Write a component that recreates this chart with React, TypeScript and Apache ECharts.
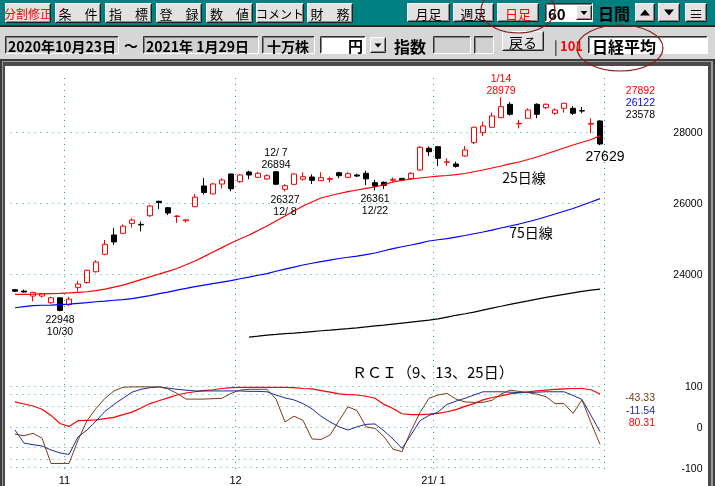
import React, { useEffect, useRef } from 'react';
import * as echarts from 'echarts';

const FF = '"Noto Sans CJK JP", "Noto Sans", sans-serif';
const NF = '"Liberation Sans", Arial, sans-serif';

const dates = [
  '2020/10/23', '2020/10/26', '2020/10/27', '2020/10/28', '2020/10/29', '2020/10/30',
  '2020/11/02', '2020/11/04', '2020/11/05', '2020/11/06', '2020/11/09', '2020/11/10', '2020/11/11', '2020/11/12', '2020/11/13',
  '2020/11/16', '2020/11/17', '2020/11/18', '2020/11/19', '2020/11/20', '2020/11/24', '2020/11/25', '2020/11/26', '2020/11/27', '2020/11/30',
  '2020/12/01', '2020/12/02', '2020/12/03', '2020/12/04', '2020/12/07', '2020/12/08', '2020/12/09', '2020/12/10', '2020/12/11',
  '2020/12/14', '2020/12/15', '2020/12/16', '2020/12/17', '2020/12/18', '2020/12/21', '2020/12/22', '2020/12/23', '2020/12/24',
  '2020/12/25', '2020/12/28', '2020/12/29', '2020/12/30',
  '2021/01/04', '2021/01/05', '2021/01/06', '2021/01/07', '2021/01/08', '2021/01/12', '2021/01/13', '2021/01/14', '2021/01/15',
  '2021/01/18', '2021/01/19', '2021/01/20', '2021/01/21', '2021/01/22', '2021/01/25', '2021/01/26', '2021/01/27', '2021/01/28', '2021/01/29',
];

const openP = [
  23560, 23520, 23380, 23380, 23190, 23330, 23140, 23625, 23760, 24065,
  24555, 25100, 25146, 25427, 25400, 25642, 26050, 25868, 25620, 25500,
  25896, 26479, 26254, 26535, 26817, 26600, 26873, 26724, 26676, 26880,
  26386, 26527, 26670, 26732, 26628, 26670, 26854, 26724, 26789, 26837,
  26572, 26583, 26640, 26695, 26685, 26930, 27541, 27586, 27150, 27099,
  27324, 27700, 27981, 28132, 28403, 28780, 28230, 28386, 28780, 28685,
  28527, 28667, 28667, 28600, 28220, 28310,
];
const closeP = [
  23516, 23494, 23485, 23450, 23331, 22977, 23295, 23718, 24105, 24338,
  24839, 24905, 25349, 25520, 25385, 25916, 26014, 25720, 25634, 25527,
  26165, 26296, 26537, 26648, 26400, 26789, 26789, 26837, 26769, 26530,
  26487, 26817, 26741, 26640, 26713, 26687, 26769, 26826, 26760, 26680,
  26475, 26499, 26668, 26656, 26837, 27569, 27445, 27259, 27158, 27030,
  27493, 28132, 28169, 28451, 28713, 28499, 28242, 28620, 28499, 28780,
  28620, 28808, 28527, 28590, 28240, 27663,
];
const lowP = [
  23500, 23480, 23230, 23340, 23170, 22948, 23100, 23500, 23730, 24040,
  24530, 24820, 25140, 25310, 25200, 25610, 25830, 25660, 25440, 25450,
  25880, 26240, 26250, 26410, 26330, 26570, 26670, 26720, 26650, 26500,
  26327, 26510, 26630, 26535, 26620, 26575, 26700, 26700, 26730, 26505,
  26361, 26400, 26585, 26640, 26660, 26900, 27325, 27040, 27050, 26995,
  27300, 27660, 27887, 28130, 28400, 28460, 28100, 28380, 28386, 28648,
  28480, 28544, 28480, 28530, 27962, 27629,
];
const highP = [
  23580, 23560, 23500, 23460, 23360, 23340, 23360, 23810, 24120, 24390,
  24960, 25300, 25400, 25570, 25480, 25950, 26060, 25890, 25660, 25540,
  26250, 26706, 26570, 26700, 26830, 26820, 26910, 26880, 26810, 26894,
  26530, 26830, 26860, 26810, 26865, 26740, 26880, 26865, 26826, 26910,
  26650, 26610, 26720, 26705, 26865, 27600, 27590, 27605, 27260, 27165,
  27605, 28150, 28290, 28546, 28979, 28839, 28340, 28667, 28808, 28808,
  28667, 28822, 28730, 28700, 28385, 28330,
];

const ma25 = [
  23428, 23430, 23432, 23440, 23448, 23456, 23470, 23485, 23501, 23535,
  23577, 23630, 23690, 23765, 23845, 23920, 24000, 24075, 24155, 24260,
  24366, 24490, 24620, 24745, 24873, 24985, 25099, 25225, 25352, 25495,
  25634, 25775, 25915, 26030, 26141, 26205, 26268, 26320, 26366, 26410,
  26451, 26520, 26592, 26635, 26676, 26705, 26732, 26755, 26775, 26800,
  26831, 26880, 26930, 26985, 27042, 27100, 27155, 27225, 27296, 27380,
  27465, 27550, 27634, 27710, 27789, 27892,
];
const ma75 = [
  23051, 23085, 23113, 23121, 23127, 23141, 23155, 23177, 23197, 23220,
  23239, 23262, 23282, 23310, 23352, 23394, 23451, 23493, 23549, 23597,
  23648, 23690, 23732, 23775, 23817, 23868, 23915, 23966, 24014, 24079,
  24141, 24197, 24254, 24304, 24352, 24394, 24437, 24473, 24507, 24549,
  24592, 24656, 24718, 24769, 24817, 24873, 24930, 24966, 25000, 25042,
  25085, 25135, 25183, 25239, 25296, 25352, 25408, 25473, 25535, 25614,
  25690, 25769, 25845, 25938, 26028, 26122,
];
const ma200 = [
  null, null, null, null, null, null, null, null, null, null,
  null, null, null, null, null, null, null, null, null, null,
  null, null, null, null, null, null, 22225, 22253, 22282, 22301,
  22324, 22338, 22358, 22380, 22403, 22422, 22445, 22465, 22487, 22513,
  22541, 22563, 22592, 22620, 22648, 22676, 22704, 22738, 22789, 22839,
  22882, 22930, 22986, 23042, 23093, 23146, 23197, 23245, 23296, 23344,
  23386, 23428, 23470, 23513, 23549, 23578,
];

const rci9 = [
  -18, -22, -16, -28, -90, -90, -90, -33, 15, 45,
  70, 88, 97, 98, 98, 98, 98, 93, 82, 68,
  68, 68, 69, 70, 82, 90, 92, 92, 92, 68,
  12, 26, 16, -30, -31, -20, 15, 49, 40, 0,
  -4, -24, -55, -61, -10, 35, 70, 78, 82, 68,
  61, 60, 60, 65, 80, 90, 87, 84, 80, 74,
  57, 57, 33, 66, 10, -43.33,
];
const rci13 = [
  -8, -40, -44, -47, -57, -64, -68, -25, -8, 14,
  38, 55, 70, 85, 92, 96, 98, 95, 92, 90,
  88, 88, 88, 88, 88, 88, 87, 87, 86, 78,
  71, 66, 57, 44, 26, 12, 0, -8, 0, 6,
  7, -10, -30, -53, -20, 15, 28, 36, 55, 63,
  70, 78, 86, 86, 86, 85, 84, 84, 85, 86,
  86, 86, 77, 67, 28, -11.54,
];
const rci25 = [
  61, 56, 51, 43, 28, 8, 1, 15, 16, 17,
  20, 23, 30, 36, 46, 57, 64, 71, 78, 83,
  86, 89, 91, 94, 96, 97, 97, 97, 97, 97,
  97, 96, 94, 93, 89, 85, 81, 79, 78, 75,
  70, 55, 45, 32, 30, 30, 31, 33, 37, 42,
  50, 57, 66, 72, 76, 81, 84, 86, 88, 90,
  92, 93, 94, 94, 91, 80.31,
];

const priceTicks = [24000, 26000, 28000];
const rciTicks = [-100, 0, 100];
const rciGridLevels = [100, 80, 50, 0, -50, -80, -100];

const annotations = [
  { i: 54, kind: 'high', color: '#ff0000' },
  { i: 29, kind: 'high', color: '#000000' },
  { i: 30, kind: 'low', color: '#000000' },
  { i: 40, kind: 'low', color: '#000000' },
  { i: 5, kind: 'low', color: '#000000' },
];

const monthStarts = dates
  .map((d, i) => (i > 0 && d.slice(5, 7) !== dates[i - 1].slice(5, 7) ? i : -1))
  .filter((i) => i >= 0);

function monthLabel(i: number) {
  const d = dates[i];
  const m = parseInt(d.slice(5, 7), 10);
  if (d.slice(0, 4) !== dates[i - 1].slice(0, 4)) return `${d.slice(2, 4)}/${m < 10 ? ' ' + m : m}`;
  return String(m);
}
function shortDate(i: number) {
  const d = dates[i];
  const m = parseInt(d.slice(5, 7), 10);
  const day = parseInt(d.slice(8, 10), 10);
  return `${m}/${day < 10 ? ' ' + day : day}`;
}

const GRIDC = '#1ea6a6';
const DOT: any = [1, 5];

function txt(x: number, y: number, text: string, opts: any = {}) {
  const align = opts.align || 'left';
  return {
    type: 'text',
    x,
    y,
    z: opts.z ?? 5,
    style: {
      text,
      fill: opts.color || '#000',
      font: `${opts.bold ? 'bold ' : ''}${opts.size || 12}px ${opts.family || FF}`,
      lineHeight: opts.lineHeight,
      align,
      textAlign: align,
      verticalAlign: 'middle',
      textVerticalAlign: 'middle',
    },
  };
}

function raised(x: number, y: number, w: number, h: number, face = '#e2e2e2') {
  return [
    { type: 'rect', z: 2, shape: { x, y, width: w, height: h }, style: { fill: face } },
    { type: 'polyline', z: 3, shape: { points: [[x + 0.5, y + h - 1], [x + 0.5, y + 0.5], [x + w - 1, y + 0.5]] }, style: { stroke: '#ffffff', fill: 'transparent', lineWidth: 1 } },
    { type: 'polyline', z: 3, shape: { points: [[x + 0.5, y + h - 0.5], [x + w - 0.5, y + h - 0.5], [x + w - 0.5, y + 0.5]] }, style: { stroke: '#202020', fill: 'transparent', lineWidth: 1 } },
    { type: 'polyline', z: 3, shape: { points: [[x + 1.5, y + h - 1.5], [x + w - 1.5, y + h - 1.5], [x + w - 1.5, y + 1.5]] }, style: { stroke: '#8a8a8a', fill: 'transparent', lineWidth: 1 } },
  ];
}
function sunken(x: number, y: number, w: number, h: number, face = '#d0d0d0') {
  return [
    { type: 'rect', z: 2, shape: { x, y, width: w, height: h }, style: { fill: face } },
    { type: 'polyline', z: 3, shape: { points: [[x + 0.5, y + h - 0.5], [x + 0.5, y + 0.5], [x + w - 0.5, y + 0.5]] }, style: { stroke: '#303030', fill: 'transparent', lineWidth: 1 } },
    { type: 'polyline', z: 3, shape: { points: [[x + 1.5, y + h - 1.5], [x + 1.5, y + 1.5], [x + w - 1.5, y + 1.5]] }, style: { stroke: '#808080', fill: 'transparent', lineWidth: 1 } },
    { type: 'polyline', z: 3, shape: { points: [[x + 0.5, y + h - 0.5], [x + w - 0.5, y + h - 0.5], [x + w - 0.5, y + 0.5]] }, style: { stroke: '#ffffff', fill: 'transparent', lineWidth: 1 } },
  ];
}
function button(x: number, y: number, w: number, h: number, label: string, color = '#000', size = 13) {
  return [...raised(x, y, w, h), txt(x + w / 2, y + h / 2 + 0.5, label, { align: 'center', color, size })];
}
function tri(cx: number, cy: number, s: number, up: boolean) {
  const pts = up
    ? [[cx - s, cy + s * 0.6], [cx + s, cy + s * 0.6], [cx, cy - s * 0.6]]
    : [[cx - s, cy - s * 0.6], [cx + s, cy - s * 0.6], [cx, cy + s * 0.6]];
  return { type: 'polygon', z: 5, shape: { points: pts }, style: { fill: '#000' } };
}

function buildGraphic() {
  const g: any[] = [];
  // toolbar background
  g.push({ type: 'rect', z: 1, shape: { x: 0, y: 0, width: 715, height: 26 }, style: { fill: '#008080' } });
  g.push({ type: 'rect', z: 1, shape: { x: 0, y: 26, width: 715, height: 33 }, style: { fill: '#d6d6d6' } });
  g.push({ type: 'rect', z: 1, shape: { x: 0, y: 25, width: 715, height: 2 }, style: { fill: '#2a2a2a' } });
  // frame (below axes)
  g.push({ type: 'rect', z: -10, shape: { x: 0, y: 59, width: 715, height: 427 }, style: { fill: '#3c3c3c' } });
  g.push({ type: 'rect', z: -9, shape: { x: 2, y: 61, width: 711, height: 425 }, style: { fill: '#9a9a9a' } });
  g.push({ type: 'rect', z: -8, shape: { x: 3, y: 62, width: 708, height: 424 }, style: { fill: '#4a4a4a' } });
  g.push({ type: 'rect', z: -7, shape: { x: 5, y: 66, width: 703, height: 420 }, style: { fill: '#ffffff' } });

  // row 1 buttons
  g.push(...button(5, 3, 46, 20, '分割修正', '#ff0000', 12));
  g.push(...button(55, 3, 46, 20, '条　件'));
  g.push(...button(105, 3, 47, 20, '指　標'));
  g.push(...button(156, 3, 46, 20, '登　録'));
  g.push(...button(206, 3, 47, 20, '数　値'));
  g.push(...button(256, 3, 48, 20, 'コメント', '#000', 12));
  g.push(...button(307, 3, 46, 20, '財　務'));
  g.push(...button(407, 3, 43, 19, '月足'));
  g.push(...button(453, 3, 41, 19, '週足'));
  g.push(...button(497, 3, 42, 19, '日足', '#ff0000'));
  g.push(...sunken(545, 3, 48, 19, '#ffffff'));
  g.push(txt(548, 13, '60', { bold: true, size: 15 }));
  g.push(...raised(576, 5, 16, 15));
  g.push(tri(584, 13, 3.5, false));
  g.push(txt(598, 13, '日間', { bold: true, size: 16 }));
  g.push(...raised(635, 3, 20, 19));
  g.push(tri(645, 12.5, 5, true));
  g.push(...raised(658, 3, 22, 19));
  g.push(tri(669, 12.5, 5, false));
  g.push(...button(685, 3, 22, 19, '≡', '#000', 14));

  // row 2
  g.push(...sunken(5, 36, 114, 18));
  g.push(txt(8, 45.5, '2020年10月23日', { bold: true, size: 14 }));
  g.push(txt(131, 45, '～', { bold: true, size: 14, align: 'center' }));
  g.push(...sunken(143, 36, 116, 18));
  g.push(txt(146, 45.5, '2021年 1月29日', { bold: true, size: 14 }));
  g.push(...sunken(262, 36, 53, 18));
  g.push(txt(288, 45.5, '十万株', { bold: true, size: 14, align: 'center' }));
  g.push(...sunken(320, 36, 46, 18, '#ffffff'));
  g.push(txt(363, 45.5, '円', { bold: true, size: 15, align: 'right' }));
  g.push(...raised(370, 37, 16, 16));
  g.push(tri(378, 45.5, 3.5, false));
  g.push(txt(394, 45.5, '指数', { bold: true, size: 16 }));
  g.push(...sunken(433, 36, 38, 18));
  g.push(...sunken(474, 36, 20, 18));
  g.push(...button(502, 31, 42, 20, '戻る', '#000', 14));
  g.push(txt(554, 45.5, '|', { size: 14 }));
  g.push(txt(560, 45.5, '101', { bold: true, size: 13, color: '#ff0000' }));
  g.push(...sunken(588, 36, 120, 18, '#ffffff'));
  g.push(txt(592, 45.5, '日経平均', { bold: true, size: 16 }));

  // chart texts
  const last = (a: any[]) => a[a.length - 1];
  const num = { align: 'right', size: 10.5, family: NF, lineHeight: 11, z: 20 };
  g.push(txt(655, 89.5, String(last(ma25)), { ...num, color: '#ff0000' }));
  g.push(txt(655, 101.5, String(last(ma75)), { ...num, color: '#0000ff' }));
  g.push(txt(655, 113.5, String(last(ma200)), { ...num, color: '#000000' }));
  g.push(txt(524, 177, '25日線', { align: 'center', size: 14, z: 20 }));
  g.push(txt(531, 232, '75日線', { align: 'center', size: 14, z: 20 }));
  g.push(txt(352, 371, 'ＲＣＩ（9、13、25日）', { size: 15, z: 20 }));
  g.push(txt(655, 397, last(rci9).toFixed(2), { ...num, color: '#7a3a18' }));
  g.push(txt(655, 409.5, last(rci13).toFixed(2), { ...num, color: '#1c2c9a' }));
  g.push(txt(655, 422, last(rci25).toFixed(2), { ...num, color: '#ff0000' }));

  // hand drawn ellipses
  g.push({ type: 'ellipse', z: 50, shape: { cx: 518, cy: 10, rx: 37, ry: 23 }, style: { fill: 'transparent', stroke: '#8e1b1b', lineWidth: 1.2 } });
  g.push({ type: 'ellipse', z: 50, shape: { cx: 620, cy: 48, rx: 43, ry: 23 }, style: { fill: 'transparent', stroke: '#8e1b1b', lineWidth: 1.2 } });
  return g;
}

export default function App() {
  const ref = useRef<HTMLDivElement>(null);
  useEffect(() => {
    if (!ref.current) return;
    const chart = echarts.init(ref.current, null, { renderer: 'svg' });
    const candleData = dates.map((_, i) => [openP[i], closeP[i], lowP[i], highP[i]]);
    const markPts: any[] = annotations.map((a) => {
      const v = a.kind === 'high' ? highP[a.i] : lowP[a.i];
      const text = a.kind === 'high' ? `${shortDate(a.i)}\n${v}` : `${v}\n${shortDate(a.i)}`;
      return {
        coord: [a.i, v],
        label: { formatter: text, position: a.kind === 'high' ? 'top' : 'bottom', distance: 1, color: a.color },
      };
    });
    const li = dates.length - 1;
    markPts.push({
      coord: [li, lowP[li]],
      label: { formatter: String(lowP[li]), position: 'bottom', distance: 3, fontSize: 14, lineHeight: 15, offset: [5, 0], color: '#000' },
    });
    const xBase = {
      type: 'category',
      data: dates,
      boundaryGap: true,
      axisLine: { show: false },
      axisTick: { show: false },
      splitLine: {
        show: true,
        interval: (i: number) => monthStarts.includes(i),
        lineStyle: { color: GRIDC, type: DOT, width: 1 },
      },
    };
    const plain = (v: number) => String(v);
    const option: any = {
      animation: false,
      textStyle: { fontFamily: FF },
      graphic: buildGraphic(),
      grid: [
        { left: 10.5, top: 78, width: 594, height: 282 },
        { left: 10.5, top: 360, width: 594, height: 112 },
      ],
      xAxis: [
        { ...xBase, gridIndex: 0, axisLabel: { show: false } },
        {
          ...xBase,
          gridIndex: 1,
          axisLabel: {
            show: true,
            interval: (i: number) => monthStarts.includes(i),
            formatter: (_v: string, i: number) => monthLabel(i),
            color: '#000',
            fontSize: 11,
            lineHeight: 11,
            margin: 2,
            padding: [0, 9, 0, 0],
            fontFamily: NF,
          },
        },
      ],
      yAxis: [
        {
          type: 'value', gridIndex: 0, position: 'right', min: 21580, max: 29520,
          splitLine: { show: false }, axisLine: { show: false }, axisTick: { show: false },
          axisLabel: { customValues: priceTicks, formatter: plain, align: 'right', margin: 98, color: '#000', fontSize: 10.5, fontFamily: NF },
        },
        {
          type: 'value', gridIndex: 1, position: 'right', min: -111, max: 164,
          splitLine: { show: false }, axisLine: { show: false }, axisTick: { show: false },
          axisLabel: { customValues: rciTicks, formatter: plain, align: 'right', margin: 98, color: '#000', fontSize: 10.5, fontFamily: NF },
        },
      ],
      series: [
        {
          type: 'candlestick', xAxisIndex: 0, yAxisIndex: 0, data: candleData, barWidth: 6, z: 3,
          itemStyle: { color: '#ffffff', color0: '#000000', borderColor: '#ff0000', borderColor0: '#000000', borderWidth: 1 },
          markLine: {
            silent: true, symbol: ['none', 'none'], label: { show: false }, z: 1,
            lineStyle: { color: GRIDC, type: DOT, width: 1 },
            data: priceTicks.map((v) => ({ yAxis: v })),
          },
          markPoint: {
            symbol: 'circle', symbolSize: 1, itemStyle: { color: 'rgba(0,0,0,0)' }, silent: true,
            label: { fontSize: 10.5, lineHeight: 12, fontFamily: NF },
            data: markPts,
          },
        },
        { type: 'line', xAxisIndex: 0, yAxisIndex: 0, data: ma25, showSymbol: false, lineStyle: { color: '#ff0000', width: 1.2 }, z: 4 },
        { type: 'line', xAxisIndex: 0, yAxisIndex: 0, data: ma75, showSymbol: false, lineStyle: { color: '#0000ff', width: 1.2 }, z: 4 },
        { type: 'line', xAxisIndex: 0, yAxisIndex: 0, data: ma200, showSymbol: false, lineStyle: { color: '#000000', width: 1.2 }, z: 4 },
        {
          type: 'line', xAxisIndex: 1, yAxisIndex: 1, data: rci25, showSymbol: false, lineStyle: { color: '#ff0000', width: 1.2 }, z: 4,
          markLine: {
            silent: true, symbol: ['none', 'none'], label: { show: false }, z: 1,
            lineStyle: { color: GRIDC, type: DOT, width: 1 },
            data: rciGridLevels.map((v) => ({ yAxis: v })),
          },
        },
        { type: 'line', xAxisIndex: 1, yAxisIndex: 1, data: rci13, showSymbol: false, lineStyle: { color: '#1c2c9a', width: 1 }, z: 4 },
        { type: 'line', xAxisIndex: 1, yAxisIndex: 1, data: rci9, showSymbol: false, lineStyle: { color: '#7a3a18', width: 1 }, z: 4 },
      ],
    };
    chart.setOption(option);
    return () => chart.dispose();
  }, []);
  return <div ref={ref} style={{ position: 'fixed', left: 0, top: 0, width: 715, height: 486 }} />;
}
